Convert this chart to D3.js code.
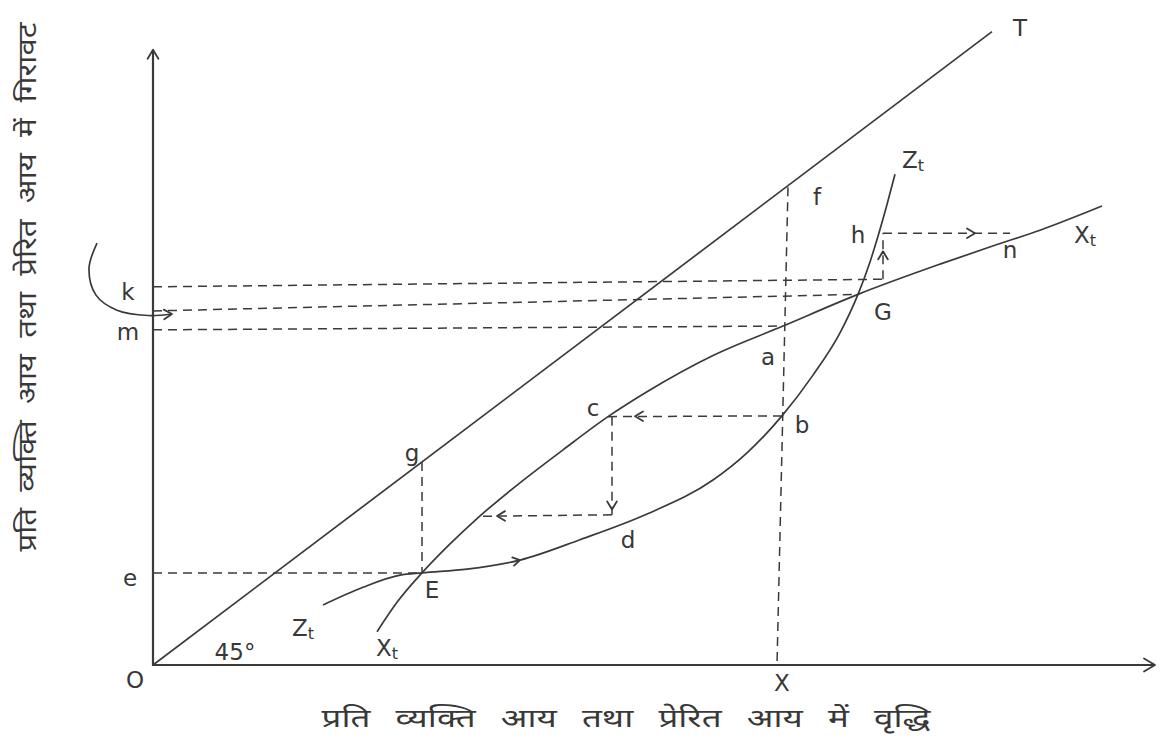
<!DOCTYPE html>
<html>
<head>
<meta charset="utf-8">
<script src="https://cdn.jsdelivr.net/npm/d3@7"></script>
<style>
  body { margin: 0; background: #fff; }
  text { font-family: "DejaVu Sans", "Noto Sans", sans-serif; fill: #383838; }
</style>
</head>
<body>
<svg id="chart" width="1163" height="743"></svg>
<script>
// Zt curve (induced income response) and Xt curve (per-capita income response)
const ztCurve = [[17.0,7.95],[21.0,10.3],[24.7,11.9],[26.9,12.2],[31.4,12.7],[36.7,13.9],[42.7,16.6],
  [49.4,20.0],[56.0,24.5],[59.4,28.1],[62.9,33.0],[66.0,38.4],[68.7,44.0],[70.5,49.1],[71.7,53.4],
  [72.5,56.8],[73.4,61.0],[74.2,65.0]];
const xtCurve = [[22.4,4.4],[24.4,8.3],[26.9,12.2],[29.6,15.9],[32.4,19.4],[36.0,23.4],[41.0,28.5],
  [45.5,32.9],[49.4,36.2],[56.0,41.0],[63.0,44.9],[70.5,49.1],[78.7,53.1],[84.4,55.7],[88.7,57.6],[94.9,60.8]];
// 45 degree line O–T
const tLine = [[0,0],[83.9,83.9]];

// dashed guides: [from, to]
const guideLines = [
  [[0,50.1],[73.0,51.1]],    // k level
  [[0,46.9],[70.5,49.1]],    // level of G
  [[0,44.4],[63.0,44.9]],    // m level (a)
  [[0,12.2],[26.9,12.2]],    // e level (E)
  [[26.9,26.9],[26.9,12.2]], // g down to E
  [[63.5,63.3],[62.4,0]],    // f down to X
  [[62.9,33.0],[45.5,32.9]], // b to c
  [[45.9,32.9],[45.9,19.9]], // c down
  [[45.9,19.9],[32.6,19.7]], // back to Xt
  [[73.0,51.1],[73.0,57.2]], // up to h
  [[73.0,57.2],[85.7,57.2]]  // h to n
];
// arrow heads on the guides: [point, direction in degrees (0 = right, 90 = up)]
const guideArrows = [
  [[48.2,32.95],180], [[45.9,20.6],-90], [[34.4,19.75],180], [[73.0,54.8],90], [[82.2,57.2],0]
];
// curved pointer on the left of the vertical axis
const pointerPath = [[-5.6,55.9],[-6.4,52.5],[-5.7,49.0],[-3.6,47.0],[-0.5,46.3],[1.9,46.5]];

// point labels
const labels = [
  {t:"E", p:[27.9,9.9]}, {t:"e", p:[-2.3,11.5]}, {t:"g", p:[25.9,28.1]}, {t:"c", p:[44.0,34.0]},
  {t:"b", p:[64.9,31.8]}, {t:"a", p:[61.5,40.8]}, {t:"d", p:[47.5,16.6]}, {t:"G", p:[73.0,46.8]},
  {t:"h", p:[70.5,57.0]}, {t:"n", p:[85.7,55.0]}, {t:"f", p:[66.4,62.0]}, {t:"k", p:[-2.5,49.4]},
  {t:"m", p:[-2.5,44.1]}, {t:"O", p:[-1.8,-2.0]}, {t:"X", p:[62.9,-2.4]}, {t:"T", p:[86.7,84.4]},
  {t:"45°", p:[8.2,1.7]}
];
const curveLabels = [
  {t:"Z", s:"t", p:[76.0,66.9]}, {t:"X", s:"t", p:[93.2,57.0]},
  {t:"Z", s:"t", p:[15.0,4.9]},  {t:"X", s:"t", p:[23.4,2.3]}
];
const xTitle = "प्रति व्यक्ति आय तथा प्रेरित आय में वृद्धि";
const yTitle = "प्रति व्यक्ति आय तथा प्रेरित आय में गिरावट";

const svg = d3.select("#chart");
const x = d3.scaleLinear().domain([0,100]).range([153,1153]);
const y = d3.scaleLinear().domain([0,82]).range([665,46]);
const ink = "#3a3a3a";

const line = d3.line().x(d => x(d[0])).y(d => y(d[1]));
const smooth = d3.line().x(d => x(d[0])).y(d => y(d[1])).curve(d3.curveMonotoneX);
const loose = d3.line().x(d => x(d[0])).y(d => y(d[1])).curve(d3.curveCatmullRom.alpha(0.5));

// open chevron arrow head at pixel point, pointing along angle (deg, screen: 0 right, 90 up)
function chevron(g, px, py, deg, size) {
  const a = deg * Math.PI / 180;
  const dx = Math.cos(a), dy = -Math.sin(a);
  const nx = -dy, ny = dx;
  const s = size || 8;
  const p1 = [px - dx*s + nx*s*0.6, py - dy*s + ny*s*0.6];
  const p2 = [px - dx*s - nx*s*0.6, py - dy*s - ny*s*0.6];
  g.append("path")
    .attr("d", `M${p1[0]},${p1[1]}L${px},${py}L${p2[0]},${p2[1]}`)
    .attr("fill","none").attr("stroke",ink).attr("stroke-width",1.8)
    .attr("stroke-linecap","round").attr("stroke-linejoin","round");
}

// axes
const axes = svg.append("g");
axes.append("path").attr("d", line([[0,81.5],[0,0],[100.2,0]]))
  .attr("fill","none").attr("stroke",ink).attr("stroke-width",2.2);
chevron(axes, x(0), y(81.5), 90, 9);
chevron(axes, x(100.2), y(0), 0, 11);

// guides
const gd = svg.append("g");
gd.selectAll("path").data(guideLines).join("path")
  .attr("d", d => line(d))
  .attr("fill","none").attr("stroke",ink).attr("stroke-width",1.5)
  .attr("stroke-dasharray","9,6");
guideArrows.forEach(([p, deg]) => chevron(gd, x(p[0]), y(p[1]), deg, 8));

// T line and curves
svg.append("path").attr("d", line(tLine)).attr("fill","none").attr("stroke",ink).attr("stroke-width",1.7);
svg.append("path").attr("d", smooth(ztCurve)).attr("fill","none").attr("stroke",ink).attr("stroke-width",1.7);
svg.append("path").attr("d", smooth(xtCurve)).attr("fill","none").attr("stroke",ink).attr("stroke-width",1.7);
// small direction mark on Zt
chevron(svg, x(36.7), y(13.9), 12, 7);

// curved pointer
svg.append("path").attr("d", loose(pointerPath)).attr("fill","none").attr("stroke",ink).attr("stroke-width",1.7);
chevron(svg, x(1.9), y(46.5), 3, 8);

// labels
svg.selectAll("text.pt").data(labels).join("text").attr("class","pt")
  .attr("x", d => x(d.p[0])).attr("y", d => y(d.p[1]))
  .attr("text-anchor","middle").attr("dominant-baseline","central")
  .attr("font-size", 23)
  .text(d => d.t);

const cl = svg.selectAll("text.cl").data(curveLabels).join("text").attr("class","cl")
  .attr("x", d => x(d.p[0])).attr("y", d => y(d.p[1]))
  .attr("text-anchor","middle").attr("dominant-baseline","central")
  .attr("font-size", 23);
cl.append("tspan").text(d => d.t);
cl.append("tspan").attr("font-size",16).attr("dy",5).text(d => d.s);

// axis titles (glyphs widened horizontally)
svg.append("text").attr("transform","translate(626,718) scale(1.4,1)")
  .attr("text-anchor","middle").attr("dominant-baseline","central")
  .attr("font-size", 25).attr("word-spacing", 10)
  .text(xTitle);
svg.append("text").attr("transform","translate(28,287) rotate(-90) scale(1.25,1)")
  .attr("text-anchor","middle").attr("dominant-baseline","central")
  .attr("font-size", 25).attr("word-spacing", 5)
  .text(yTitle);
</script>
</body>
</html>
